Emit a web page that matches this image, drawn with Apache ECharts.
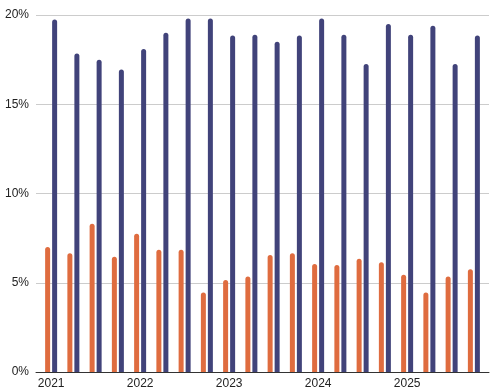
<!DOCTYPE html>
<html>
<head>
<meta charset="utf-8">
<script src="https://cdn.jsdelivr.net/npm/echarts@6/dist/echarts.min.js"></script>
<style>html,body{margin:0;padding:0;background:#fff}#c{width:493px;height:392px}</style>
</head>
<body>
<div id="c"></div>
<script>
var categories = ['2021 Q1','2021 Q2','2021 Q3','2021 Q4','2022 Q1','2022 Q2','2022 Q3','2022 Q4','2023 Q1','2023 Q2','2023 Q3','2023 Q4','2024 Q1','2024 Q2','2024 Q3','2024 Q4','2025 Q1','2025 Q2','2025 Q3','2025 Q4'];
var tickLabels = ['2021','2022','2023','2024','2025'];
var orangeValues = [7.0, 6.65, 8.3, 6.45, 7.75, 6.85, 6.85, 4.45, 5.15, 5.35, 6.55, 6.65, 6.05, 6.0, 6.35, 6.15, 5.45, 4.45, 5.35, 5.75];
var blueValues = [19.75, 17.85, 17.5, 16.95, 18.1, 19.0, 19.8, 19.8, 18.85, 18.9, 18.5, 18.85, 19.8, 18.9, 17.25, 19.5, 18.9, 19.4, 17.25, 18.85];
var yTicks = [0, 5, 10, 15, 20];

var chart = echarts.init(document.getElementById('c'));
var font = 'Liberation Sans, Arial, sans-serif';
chart.setOption({
  animation: false,
  backgroundColor: '#ffffff',
  grid: [
    {left: 36, right: 4, top: 15, bottom: 20},
    {left: 40, right: 8, top: 15, bottom: 20}
  ],
  xAxis: [
    {gridIndex: 0, type: 'category', data: categories,
     axisLine: {show: true, lineStyle: {color: '#333333', width: 1}},
     axisTick: {show: false}, axisLabel: {show: false}, splitLine: {show: false}},
    {gridIndex: 1, type: 'category', data: categories,
     axisLine: {show: false}, axisTick: {show: false}, splitLine: {show: false},
     axisLabel: {show: true, interval: 3, margin: 6, color: '#222222', fontSize: 12, fontFamily: font,
       formatter: function (v) { var y = v.split(' ')[0]; return tickLabels.indexOf(y) >= 0 ? y : ''; }}}
  ],
  yAxis: [
    {gridIndex: 0, type: 'value', min: yTicks[0], max: yTicks[yTicks.length - 1], interval: 5,
     axisLine: {show: false}, axisTick: {show: false},
     axisLabel: {margin: 7, color: '#222222', fontSize: 12, fontFamily: font, formatter: '{value}%'},
     splitLine: {show: true, lineStyle: {color: '#cccccc', width: 1}}},
    {gridIndex: 1, type: 'value', min: yTicks[0], max: yTicks[yTicks.length - 1], interval: 5,
     show: false, splitLine: {show: false}}
  ],
  series: [
    {type: 'bar', xAxisIndex: 1, yAxisIndex: 1, data: orangeValues, barWidth: 5, barGap: '40%',
     itemStyle: {color: '#df6c3f', borderRadius: [2.5, 2.5, 0, 0]}},
    {type: 'bar', xAxisIndex: 1, yAxisIndex: 1, data: blueValues, barWidth: 5, barGap: '40%',
     itemStyle: {color: '#41437a', borderRadius: [2.5, 2.5, 0, 0]}}
  ]
});
</script>
</body>
</html>
